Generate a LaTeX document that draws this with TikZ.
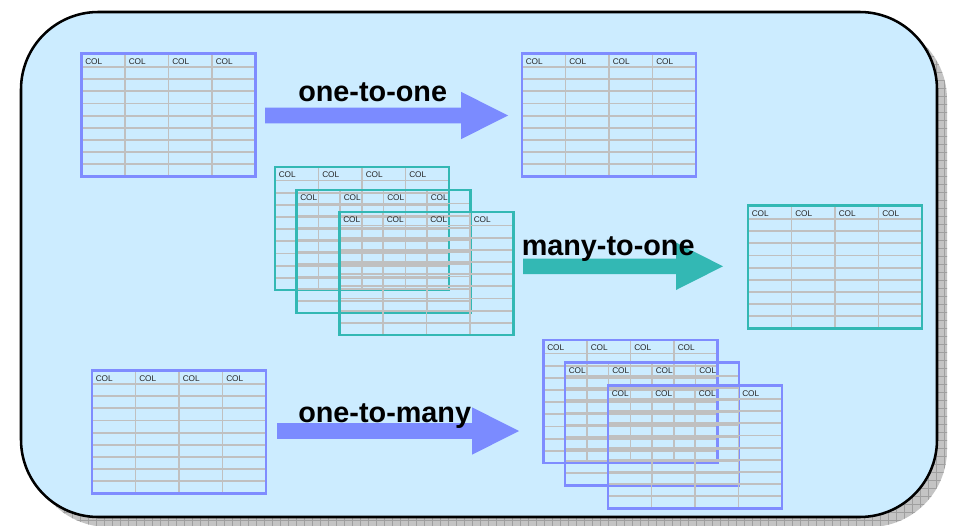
\documentclass[tikz,border=0pt]{standalone}
\usepackage{fontspec}
\setmainfont{Liberation Sans}
\definecolor{bgblue}{HTML}{CCECFF}
\definecolor{tblue}{HTML}{7F8CFF}
\definecolor{ablue}{HTML}{7B8BFF}
\definecolor{tteal}{HTML}{33B8B4}
\definecolor{gridgray}{HTML}{C0C0C0}
\definecolor{shadowgray}{HTML}{C4C4C4}
\tikzset{
  hline/.style={draw=gridgray, line width=1.4pt},
  vline/.style={draw=gridgray, line width=0.8pt},
  tborder/.style={draw=#1, line width=1.6pt},
  collabel/.style={anchor=base west, inner sep=0pt, font=\fontsize{6.2}{7}\selectfont, text=black!85},
  biglabel/.style={anchor=base west, inner sep=0pt, font=\fontsize{21.6}{24}\selectfont\bfseries},
  outerbox/.style={draw=black, line width=1.9pt, rounded corners=58pt, fill=bgblue},
}
% name, x, y, colour
\newcommand\dbtable[4]{%
  \begin{scope}[shift={(#2,#3)}]
    \foreach \k in {0,...,8} {\draw[hline] (0,{13.5+12.17*\k}) -- (174,{13.5+12.17*\k});}
    \foreach \c in {43.5,87,130.5} {\draw[vline] (\c,0) -- (\c,123);}
    \draw[tborder=#4] (0,0) rectangle (174,123);
    \node[collabel] (#1c1) at (3.5,10.5) {COL};
    \node[collabel] (#1c2) at (47,10.5) {COL};
    \node[collabel] (#1c3) at (90.5,10.5) {COL};
    \node[collabel] (#1c4) at (134,10.5) {COL};
  \end{scope}}
% colour, x start, head start, tip, y centre
\newcommand\blockarrow[5]{%
  \fill[#1] (#2,{#5-7.8}) -- (#3,{#5-7.8}) -- (#3,{#5-23.7}) -- (#4,#5)
     -- (#3,{#5+23.7}) -- (#3,{#5+7.8}) -- (#2,{#5+7.8}) -- cycle;}
\begin{document}
\begin{tikzpicture}[x=0.75pt,y=-0.75pt]
\useasboundingbox (0,0) rectangle (953,525);
% shadow
\begin{scope}
  \clip[rounded corners=58pt] (31,22) rectangle (947,527);
  \fill[shadowgray] (0,0) rectangle (953,530);
  \foreach \g in {0,8,...,960} {\draw[gray!75, line width=0.4pt] (\g,0) -- (\g,530);}
  \foreach \g in {0,8,...,530} {\draw[gray!75, line width=0.4pt] (0,\g) -- (960,\g);}
\end{scope}
% main panel
\draw[outerbox] (21,12) rectangle (937,517);
% tables
\dbtable{ta}{81.5}{53.5}{tblue}
\dbtable{tb}{522}{53.5}{tblue}
\dbtable{ma}{275}{167}{tteal}
\dbtable{mb}{296.5}{190}{tteal}
\dbtable{mc}{339.5}{212}{tteal}
\dbtable{tc}{748}{205.5}{tteal}
\dbtable{td}{92}{370.5}{tblue}
\dbtable{ba}{543.5}{340}{tblue}
\dbtable{bb}{565}{362.5}{tblue}
\dbtable{bc}{608}{385.5}{tblue}
% arrows
\blockarrow{ablue}{265}{461}{508}{115.5}
\blockarrow{tteal}{523}{676}{723}{266.3}
\blockarrow{ablue}{277}{472}{519}{431}
% labels
\node[biglabel] (l1) at (298,101.5) {one-to-one};
\node[biglabel] (l2) at (521.5,255) {many-to-one};
\node[biglabel] (l3) at (298,422.5) {one-to-many};
\end{tikzpicture}
\end{document}
